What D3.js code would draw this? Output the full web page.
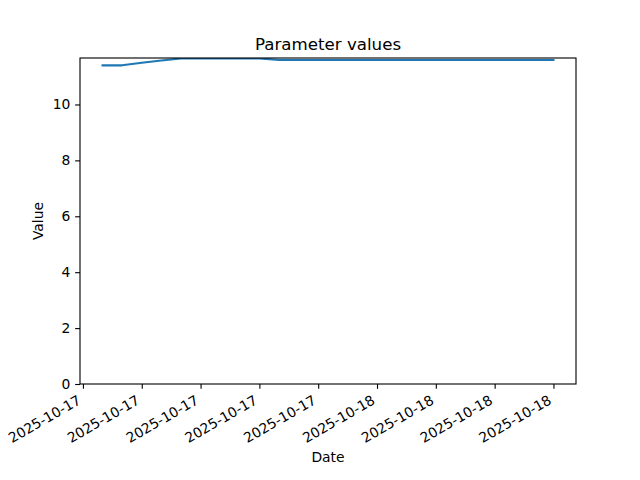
<!DOCTYPE html>
<html>
<head>
<meta charset="utf-8">
<script src="https://cdn.jsdelivr.net/npm/d3@7"></script>
<style>
  body { margin: 0; background: #fff; }
  svg { display: block; font-family: "DejaVu Sans", sans-serif; }
  .axis path, .axis line { stroke: #000; stroke-width: 1.11px; }
  .axis text { font-family: "DejaVu Sans", sans-serif; font-size: 13.89px; fill: #000; }
</style>
</head>
<body>
<div id="chart"></div>
<script>
// hourly samples
const dates = [
  '2025-10-17 10:00', '2025-10-17 11:00', '2025-10-17 12:00', '2025-10-17 13:00',
  '2025-10-17 14:00', '2025-10-17 15:00', '2025-10-17 16:00', '2025-10-17 17:00',
  '2025-10-17 18:00', '2025-10-17 19:00', '2025-10-17 20:00', '2025-10-17 21:00',
  '2025-10-17 22:00', '2025-10-17 23:00', '2025-10-18 00:00', '2025-10-18 01:00',
  '2025-10-18 02:00', '2025-10-18 03:00', '2025-10-18 04:00', '2025-10-18 05:00',
  '2025-10-18 06:00', '2025-10-18 07:00', '2025-10-18 08:00', '2025-10-18 09:00'
]
const values = [
  11.40, 11.40, 11.49, 11.57,
  11.65, 11.65, 11.65, 11.65,
  11.65, 11.59, 11.59, 11.59,
  11.59, 11.59, 11.59, 11.59,
  11.59, 11.59, 11.59, 11.59,
  11.59, 11.59, 11.59, 11.59
]
const xTicks = [
  '2025-10-17 09:00', '2025-10-17 12:00', '2025-10-17 15:00', '2025-10-17 18:00',
  '2025-10-17 21:00', '2025-10-18 00:00', '2025-10-18 03:00', '2025-10-18 06:00',
  '2025-10-18 09:00'
]
const yTicks = [0, 2, 4, 6, 8, 10]

const parse = d3.utcParse('%Y-%m-%d %H:%M')
const data = dates.map((d, i) => ({ date: parse(d), value: values[i] }))

const W = 640, H = 480
const margin = { top: 58, right: 64, bottom: 96, left: 80 }
const width = W - margin.left - margin.right
const height = H - margin.top - margin.bottom

// matplotlib-like 5% padding on x, y from 0 to max + 5% of data span
const [t0, t1] = d3.extent(data, d => d.date)
const pad = (t1 - t0) * 0.05
const [vmin, vmax] = d3.extent(values)

const xScale = d3.scaleUtc()
  .domain([new Date(+t0 - pad), new Date(+t1 + pad)])
  .range([0, width])

const yScale = d3.scaleLinear()
  .domain([0, vmax + (vmax - vmin) * 0.05])
  .range([height, 0])

const svg = d3.select('#chart').append('svg')
  .attr('width', W)
  .attr('height', H)

const g = svg.append('g')
  .attr('transform', 'translate(' + margin.left + ',' + margin.top + ')')

const clip = g.append('clipPath').attr('id', 'clip')
clip.append('rect').attr('width', width).attr('height', height)

g.append('path')
  .datum(data)
  .attr('clip-path', 'url(#clip)')
  .attr('fill', 'none')
  .attr('stroke', '#1f77b4')
  .attr('stroke-width', 2.08)
  .attr('stroke-linejoin', 'round')
  .attr('stroke-linecap', 'square')
  .attr('d', d3.line().x(d => xScale(d.date)).y(d => yScale(d.value)))

// x axis
const xAxis = g.append('g')
  .attr('class', 'axis')
  .attr('transform', 'translate(0,' + height + ')')
  .call(d3.axisBottom(xScale)
    .tickValues(xTicks.map(parse))
    .tickFormat(d3.utcFormat('%Y-%m-%d'))
    .tickSize(4.86)
    .tickSizeOuter(0)
    .tickPadding(0))
xAxis.select('.domain').remove()
xAxis.selectAll('text')
  .attr('text-anchor', 'end')
  .attr('dy', null)
  .attr('y', null)
  .attr('transform', 'translate(-1.5,19) rotate(-30)')

// y axis
const yAxis = g.append('g')
  .attr('class', 'axis')
  .call(d3.axisLeft(yScale)
    .tickValues(yTicks)
    .tickSize(4.86)
    .tickSizeOuter(0)
    .tickPadding(4.86))
yAxis.select('.domain').remove()

// frame
g.append('rect')
  .attr('width', width)
  .attr('height', height)
  .attr('fill', 'none')
  .attr('stroke', '#000')
  .attr('stroke-width', 1.11)

svg.append('text')
  .attr('x', margin.left + width / 2)
  .attr('y', 50)
  .attr('text-anchor', 'middle')
  .style('font-size', '16.67px')
  .text('Parameter values')

svg.append('text')
  .attr('x', margin.left + width / 2)
  .attr('y', 462)
  .attr('text-anchor', 'middle')
  .style('font-size', '13.89px')
  .text('Date')

svg.append('text')
  .attr('transform', 'translate(43,' + (margin.top + height / 2) + ') rotate(-90)')
  .attr('text-anchor', 'middle')
  .style('font-size', '13.89px')
  .text('Value')
</script>
</body>
</html>
